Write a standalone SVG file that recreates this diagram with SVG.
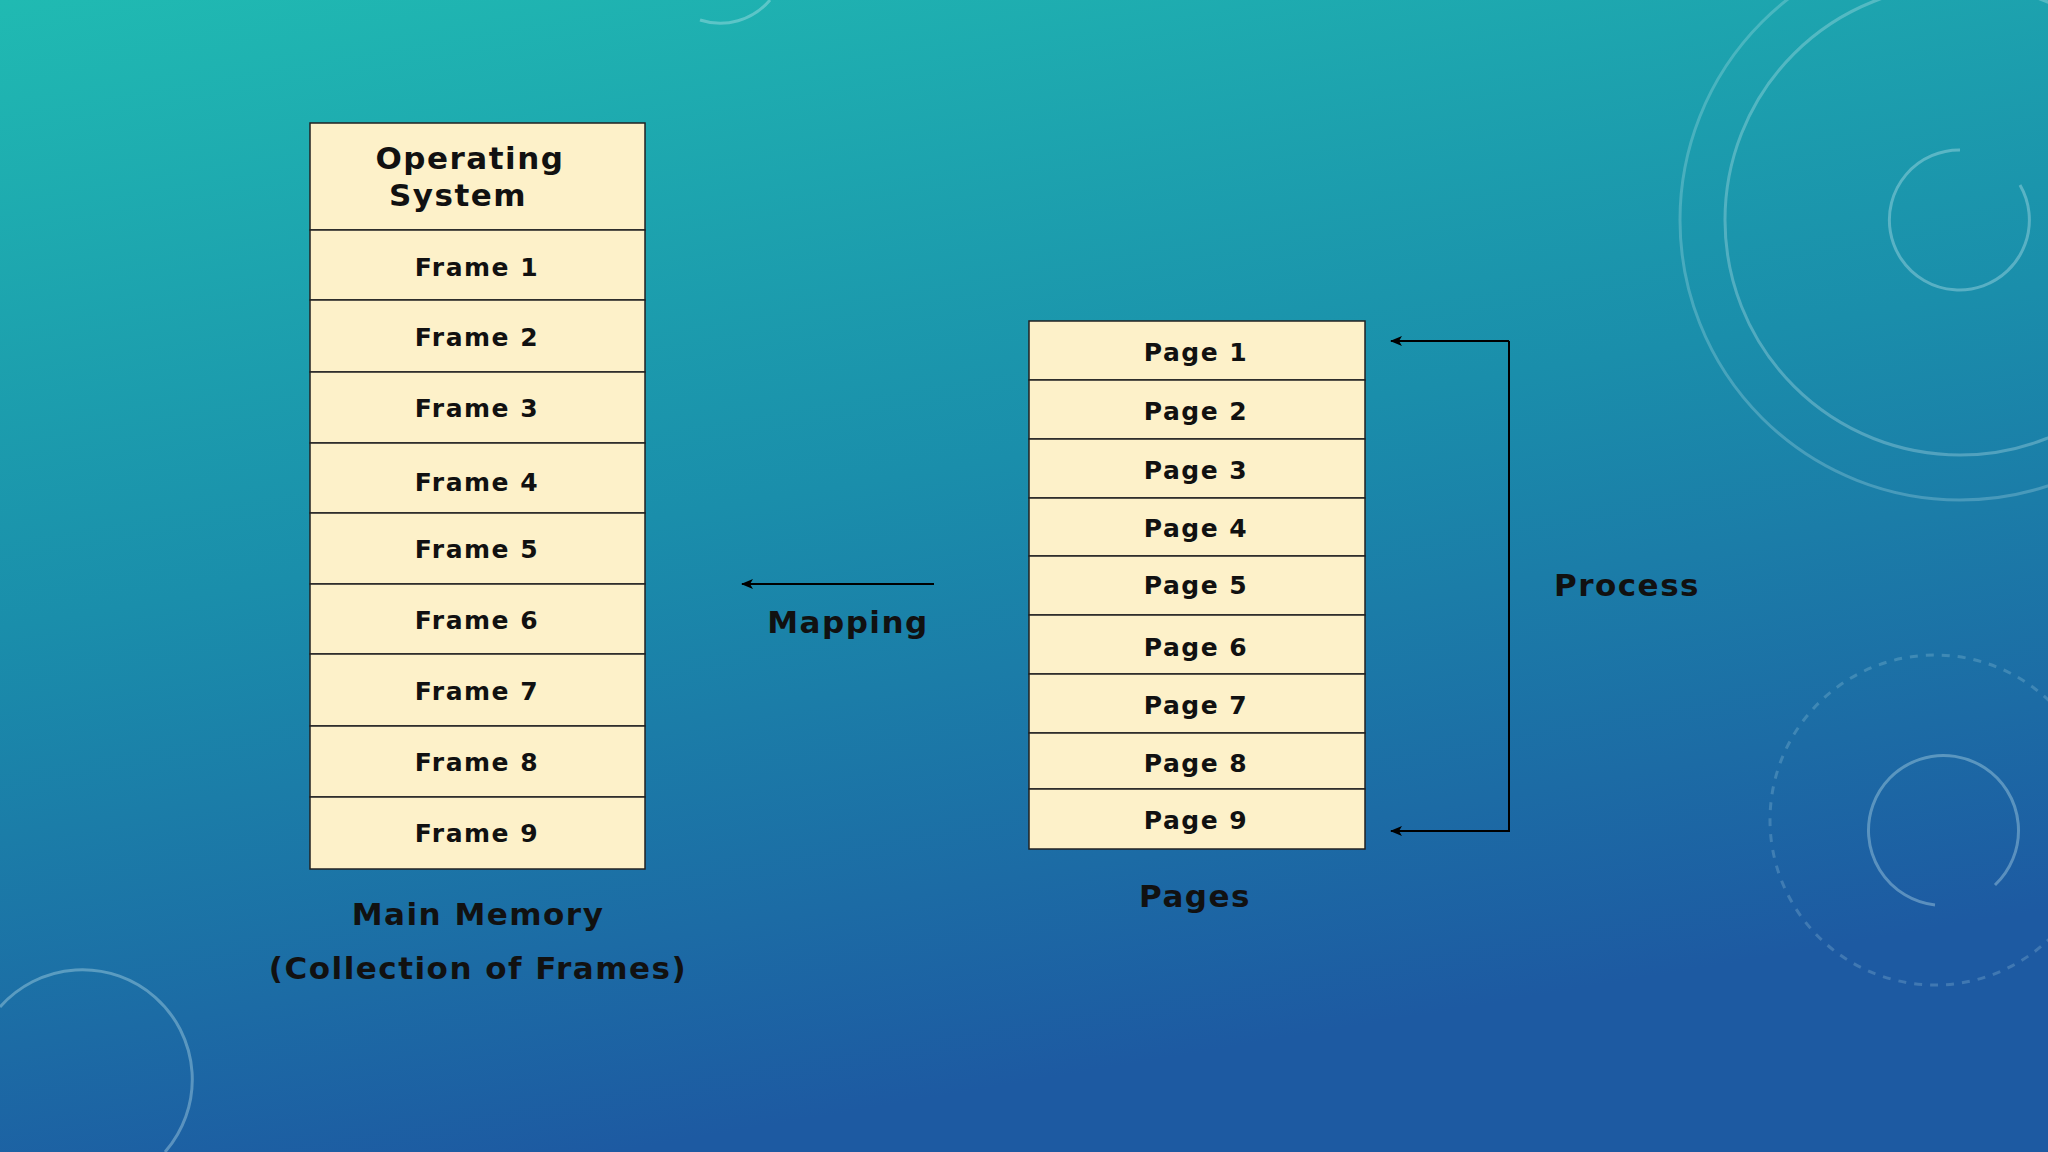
<svg xmlns="http://www.w3.org/2000/svg" width="2048" height="1152" viewBox="0 0 2048 1152">
<defs>
<linearGradient id="bg" x1="0" y1="0" x2="0.3" y2="1">
<stop offset="0" stop-color="#20bab2"/>
<stop offset="0.5" stop-color="#1a8eab"/>
<stop offset="1" stop-color="#1d5aa2"/>
</linearGradient>
<marker id="ah" markerWidth="12" markerHeight="10" refX="11" refY="5" orient="auto" markerUnits="userSpaceOnUse">
<path d="M0,0 L12,5 L0,10 L3,5 Z" fill="#000"/>
</marker>
<style>
.cell{fill:#fdf1c9;stroke:#222;stroke-width:1.5}
.t{font-family:"DejaVu Sans",sans-serif;font-weight:bold;font-size:25px;letter-spacing:1.5px;fill:#111;text-anchor:middle;dominant-baseline:central}
.lbl{font-family:"DejaVu Sans",sans-serif;font-weight:bold;font-size:31px;letter-spacing:1.5px;fill:#111;text-anchor:middle;dominant-baseline:central}
.deco{fill:none;stroke:#cfeff3;stroke-opacity:0.35;stroke-width:3}
.c{stroke:#000;stroke-width:2;fill:none}
</style>
</defs>
<rect width="2048" height="1152" fill="url(#bg)"/>
<g class="deco">
<circle cx="1960" cy="220" r="280" stroke-opacity="0.25"/>
<circle cx="1960" cy="220" r="235" stroke-opacity="0.3"/>
<path d="M1960,150 a70,70 0 1 0 60,35"/>
<path d="M1935,905 a75,75 0 1 1 60,-20"/>
<circle cx="1935" cy="820" r="165" stroke-dasharray="8 8" stroke-opacity="0.2"/>
<path d="M165,1152 a100,100 0 0 0 -165,-145"/>
<path d="M700,20 a65,65 0 0 0 70,-20"/>
</g>
<g id="os"><rect class="cell" x="310" y="123" width="335" height="107"/><text class="lbl" x="470" y="158">Operating</text><text class="lbl" x="458" y="195">System</text></g>
<g id="frames">
<rect class="cell" x="310" y="230" width="335" height="70"/><text class="t" x="477" y="267">Frame 1</text>
<rect class="cell" x="310" y="300" width="335" height="72"/><text class="t" x="477" y="337">Frame 2</text>
<rect class="cell" x="310" y="372" width="335" height="71"/><text class="t" x="477" y="408">Frame 3</text>
<rect class="cell" x="310" y="443" width="335" height="70"/><text class="t" x="477" y="482">Frame 4</text>
<rect class="cell" x="310" y="513" width="335" height="71"/><text class="t" x="477" y="549">Frame 5</text>
<rect class="cell" x="310" y="584" width="335" height="70"/><text class="t" x="477" y="620">Frame 6</text>
<rect class="cell" x="310" y="654" width="335" height="72"/><text class="t" x="477" y="691">Frame 7</text>
<rect class="cell" x="310" y="726" width="335" height="71"/><text class="t" x="477" y="762">Frame 8</text>
<rect class="cell" x="310" y="797" width="335" height="72"/><text class="t" x="477" y="833">Frame 9</text>
</g>
<g id="pages">
<rect class="cell" x="1029" y="321" width="336" height="59"/><text class="t" x="1196" y="352">Page 1</text>
<rect class="cell" x="1029" y="380" width="336" height="59"/><text class="t" x="1196" y="411">Page 2</text>
<rect class="cell" x="1029" y="439" width="336" height="59"/><text class="t" x="1196" y="470">Page 3</text>
<rect class="cell" x="1029" y="498" width="336" height="58"/><text class="t" x="1196" y="528">Page 4</text>
<rect class="cell" x="1029" y="556" width="336" height="59"/><text class="t" x="1196" y="585">Page 5</text>
<rect class="cell" x="1029" y="615" width="336" height="59"/><text class="t" x="1196" y="647">Page 6</text>
<rect class="cell" x="1029" y="674" width="336" height="59"/><text class="t" x="1196" y="705">Page 7</text>
<rect class="cell" x="1029" y="733" width="336" height="56"/><text class="t" x="1196" y="763">Page 8</text>
<rect class="cell" x="1029" y="789" width="336" height="60"/><text class="t" x="1196" y="820">Page 9</text>
</g>
<g id="connectors">
<path class="c" d="M934,584 L742,584" marker-end="url(#ah)"/>
<path class="c" d="M1509,341 L1391,341" marker-end="url(#ah)"/>
<path class="c" d="M1509,341 L1509,831 L1391,831" marker-end="url(#ah)"/>
</g>
<g id="labels">
<text class="lbl" x="848" y="622">Mapping</text>
<text class="lbl" x="1627" y="585">Process</text>
<text class="lbl" x="478" y="914">Main Memory</text>
<text class="lbl" x="478" y="968">(Collection of Frames)</text>
<text class="lbl" x="1195" y="896">Pages</text>
</g>
</svg>
